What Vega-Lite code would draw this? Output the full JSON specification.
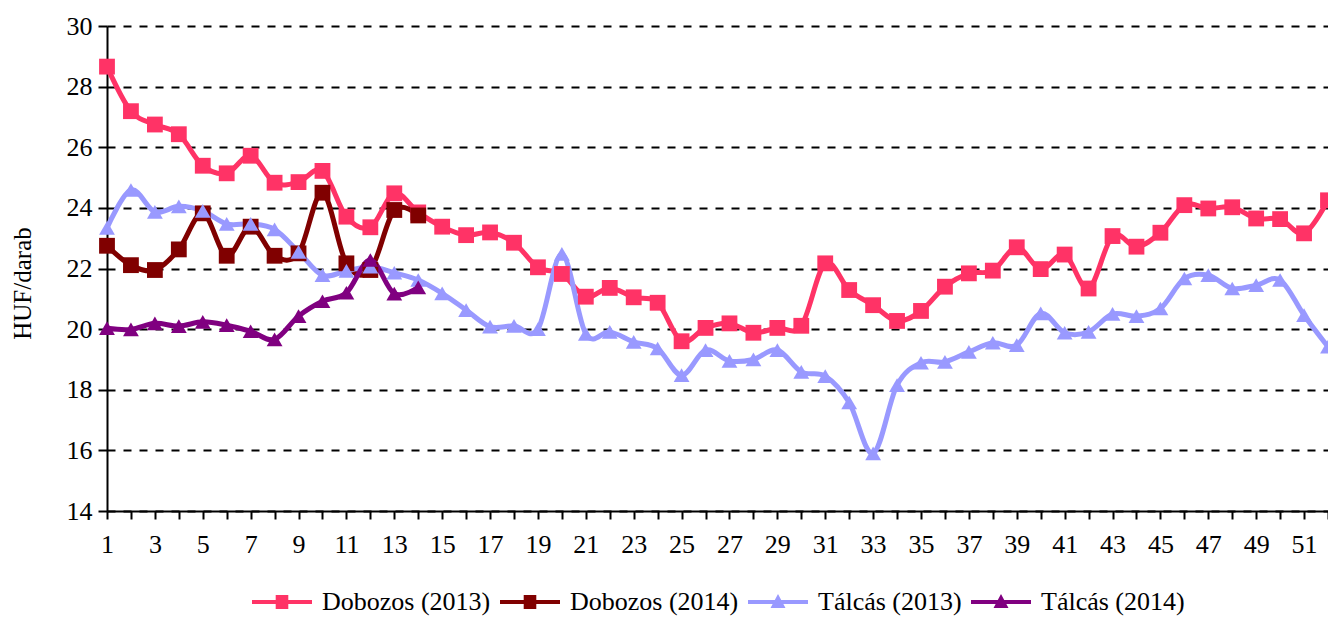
{
  "$schema": "https://vega.github.io/schema/vega-lite/v6.json",
  "width": 1221,
  "height": 485,
  "autosize": {"type": "none"},
  "padding": {"left": 107, "top": 26, "right": 0, "bottom": 106},
  "background": "white",
  "config": {"view": {"stroke": null}, "font": "Liberation Serif"},
  "data": {"values": [
    {"w":1,"s":"Dobozos (2013)","v":28.66},{"w":2,"s":"Dobozos (2013)","v":27.19},{"w":3,"s":"Dobozos (2013)","v":26.75},{"w":4,"s":"Dobozos (2013)","v":26.43},{"w":5,"s":"Dobozos (2013)","v":25.39},{"w":6,"s":"Dobozos (2013)","v":25.14},{"w":7,"s":"Dobozos (2013)","v":25.72},{"w":8,"s":"Dobozos (2013)","v":24.83},{"w":9,"s":"Dobozos (2013)","v":24.85},{"w":10,"s":"Dobozos (2013)","v":25.22},{"w":11,"s":"Dobozos (2013)","v":23.71},{"w":12,"s":"Dobozos (2013)","v":23.36},{"w":13,"s":"Dobozos (2013)","v":24.48},{"w":14,"s":"Dobozos (2013)","v":23.85},{"w":15,"s":"Dobozos (2013)","v":23.38},{"w":16,"s":"Dobozos (2013)","v":23.10},{"w":17,"s":"Dobozos (2013)","v":23.19},{"w":18,"s":"Dobozos (2013)","v":22.85},{"w":19,"s":"Dobozos (2013)","v":22.04},{"w":20,"s":"Dobozos (2013)","v":21.82},{"w":21,"s":"Dobozos (2013)","v":21.07},{"w":22,"s":"Dobozos (2013)","v":21.36},{"w":23,"s":"Dobozos (2013)","v":21.05},{"w":24,"s":"Dobozos (2013)","v":20.87},{"w":25,"s":"Dobozos (2013)","v":19.60},{"w":26,"s":"Dobozos (2013)","v":20.04},{"w":27,"s":"Dobozos (2013)","v":20.19},{"w":28,"s":"Dobozos (2013)","v":19.88},{"w":29,"s":"Dobozos (2013)","v":20.04},{"w":30,"s":"Dobozos (2013)","v":20.11},{"w":31,"s":"Dobozos (2013)","v":22.17},{"w":32,"s":"Dobozos (2013)","v":21.29},{"w":33,"s":"Dobozos (2013)","v":20.79},{"w":34,"s":"Dobozos (2013)","v":20.27},{"w":35,"s":"Dobozos (2013)","v":20.60},{"w":36,"s":"Dobozos (2013)","v":21.40},{"w":37,"s":"Dobozos (2013)","v":21.84},{"w":38,"s":"Dobozos (2013)","v":21.93},{"w":39,"s":"Dobozos (2013)","v":22.70},{"w":40,"s":"Dobozos (2013)","v":21.98},{"w":41,"s":"Dobozos (2013)","v":22.46},{"w":42,"s":"Dobozos (2013)","v":21.34},{"w":43,"s":"Dobozos (2013)","v":23.07},{"w":44,"s":"Dobozos (2013)","v":22.72},{"w":45,"s":"Dobozos (2013)","v":23.18},{"w":46,"s":"Dobozos (2013)","v":24.09},{"w":47,"s":"Dobozos (2013)","v":23.98},{"w":48,"s":"Dobozos (2013)","v":24.02},{"w":49,"s":"Dobozos (2013)","v":23.65},{"w":50,"s":"Dobozos (2013)","v":23.63},{"w":51,"s":"Dobozos (2013)","v":23.16},{"w":52,"s":"Dobozos (2013)","v":24.25},
    {"w":1,"s":"Dobozos (2014)","v":22.75},{"w":2,"s":"Dobozos (2014)","v":22.11},{"w":3,"s":"Dobozos (2014)","v":21.95},{"w":4,"s":"Dobozos (2014)","v":22.63},{"w":5,"s":"Dobozos (2014)","v":23.82},{"w":6,"s":"Dobozos (2014)","v":22.42},{"w":7,"s":"Dobozos (2014)","v":23.38},{"w":8,"s":"Dobozos (2014)","v":22.42},{"w":9,"s":"Dobozos (2014)","v":22.50},{"w":10,"s":"Dobozos (2014)","v":24.50},{"w":11,"s":"Dobozos (2014)","v":22.17},{"w":12,"s":"Dobozos (2014)","v":21.95},{"w":13,"s":"Dobozos (2014)","v":23.93},{"w":14,"s":"Dobozos (2014)","v":23.75},
    {"w":1,"s":"Tálcás (2013)","v":23.34},{"w":2,"s":"Tálcás (2013)","v":24.59},{"w":3,"s":"Tálcás (2013)","v":23.87},{"w":4,"s":"Tálcás (2013)","v":24.05},{"w":5,"s":"Tálcás (2013)","v":23.90},{"w":6,"s":"Tálcás (2013)","v":23.47},{"w":7,"s":"Tálcás (2013)","v":23.47},{"w":8,"s":"Tálcás (2013)","v":23.29},{"w":9,"s":"Tálcás (2013)","v":22.55},{"w":10,"s":"Tálcás (2013)","v":21.78},{"w":11,"s":"Tálcás (2013)","v":21.92},{"w":12,"s":"Tálcás (2013)","v":22.06},{"w":13,"s":"Tálcás (2013)","v":21.86},{"w":14,"s":"Tálcás (2013)","v":21.62},{"w":15,"s":"Tálcás (2013)","v":21.18},{"w":16,"s":"Tálcás (2013)","v":20.63},{"w":17,"s":"Tálcás (2013)","v":20.08},{"w":18,"s":"Tálcás (2013)","v":20.11},{"w":19,"s":"Tálcás (2013)","v":20.00},{"w":20,"s":"Tálcás (2013)","v":22.48},{"w":21,"s":"Tálcás (2013)","v":19.84},{"w":22,"s":"Tálcás (2013)","v":19.91},{"w":23,"s":"Tálcás (2013)","v":19.58},{"w":24,"s":"Tálcás (2013)","v":19.36},{"w":25,"s":"Tálcás (2013)","v":18.48},{"w":26,"s":"Tálcás (2013)","v":19.31},{"w":27,"s":"Tálcás (2013)","v":18.95},{"w":28,"s":"Tálcás (2013)","v":19.00},{"w":29,"s":"Tálcás (2013)","v":19.31},{"w":30,"s":"Tálcás (2013)","v":18.59},{"w":31,"s":"Tálcás (2013)","v":18.45},{"w":32,"s":"Tálcás (2013)","v":17.58},{"w":33,"s":"Tálcás (2013)","v":15.90},{"w":34,"s":"Tálcás (2013)","v":18.15},{"w":35,"s":"Tálcás (2013)","v":18.89},{"w":36,"s":"Tálcás (2013)","v":18.92},{"w":37,"s":"Tálcás (2013)","v":19.25},{"w":38,"s":"Tálcás (2013)","v":19.55},{"w":39,"s":"Tálcás (2013)","v":19.47},{"w":40,"s":"Tálcás (2013)","v":20.52},{"w":41,"s":"Tálcás (2013)","v":19.88},{"w":42,"s":"Tálcás (2013)","v":19.91},{"w":43,"s":"Tálcás (2013)","v":20.50},{"w":44,"s":"Tálcás (2013)","v":20.43},{"w":45,"s":"Tálcás (2013)","v":20.68},{"w":46,"s":"Tálcás (2013)","v":21.67},{"w":47,"s":"Tálcás (2013)","v":21.78},{"w":48,"s":"Tálcás (2013)","v":21.34},{"w":49,"s":"Tálcás (2013)","v":21.45},{"w":50,"s":"Tálcás (2013)","v":21.62},{"w":51,"s":"Tálcás (2013)","v":20.46},{"w":52,"s":"Tálcás (2013)","v":19.42},
    {"w":1,"s":"Tálcás (2014)","v":20.03},{"w":2,"s":"Tálcás (2014)","v":19.99},{"w":3,"s":"Tálcás (2014)","v":20.19},{"w":4,"s":"Tálcás (2014)","v":20.10},{"w":5,"s":"Tálcás (2014)","v":20.24},{"w":6,"s":"Tálcás (2014)","v":20.13},{"w":7,"s":"Tálcás (2014)","v":19.93},{"w":8,"s":"Tálcás (2014)","v":19.66},{"w":9,"s":"Tálcás (2014)","v":20.43},{"w":10,"s":"Tálcás (2014)","v":20.92},{"w":11,"s":"Tálcás (2014)","v":21.20},{"w":12,"s":"Tálcás (2014)","v":22.28},{"w":13,"s":"Tálcás (2014)","v":21.17},{"w":14,"s":"Tálcás (2014)","v":21.38}
  ]},
  "encoding": {
    "x": {"field": "w", "type": "quantitative",
      "scale": {"domain": [1, 52], "nice": false, "zero": false},
      "axis": {"title": null, "grid": false,
        "values": [1,2,3,4,5,6,7,8,9,10,11,12,13,14,15,16,17,18,19,20,21,22,23,24,25,26,27,28,29,30,31,32,33,34,35,36,37,38,39,40,41,42,43,44,45,46,47,48,49,50,51,52],
        "labelExpr": "datum.value % 2 == 1 ? datum.label : ''",
        "labelOverlap": false, "labelFlush": false,
        "domainColor": "black", "domainWidth": 2,
        "tickColor": "black", "tickWidth": 2, "tickSize": 8,
        "labelPadding": 12, "labelFont": "Liberation Serif", "labelFontSize": 26, "labelColor": "black"}},
    "y": {"field": "v", "type": "quantitative",
      "scale": {"domain": [14, 30], "nice": false, "zero": false},
      "axis": {"values": [14,16,18,20,22,24,26,28,30],
        "grid": true, "gridColor": "black", "gridDash": [8, 8], "gridWidth": 2,
        "domainColor": "black", "domainWidth": 2,
        "tickColor": "black", "tickWidth": 2, "tickSize": 9,
        "labelPadding": 6, "labelFont": "Liberation Serif", "labelFontSize": 26, "labelColor": "black",
        "title": "HUF/darab", "titleFont": "Liberation Serif", "titleFontSize": 25, "titleFontWeight": "normal", "titleColor": "black",
        "titleAngle": 270, "titleX": -77, "titleY": 257, "titleBaseline": "alphabetic", "titleAlign": "center"}},
    "color": {"field": "s", "type": "nominal",
      "scale": {"domain": ["Dobozos (2013)", "Dobozos (2014)", "Tálcás (2013)", "Tálcás (2014)"],
                "range": ["#FF3366", "#800000", "#9999FF", "#800080"]},
      "legend": {"title": null, "orient": "none", "direction": "horizontal", "legendX": 145, "legendY": 546,
        "symbolSize": 3600, "labelOffset": 10, "columnPadding": 9, "labelLimit": 0,
        "labelFont": "Liberation Serif", "labelFontSize": 26, "labelColor": "black",
        "encode": {"symbols": {"update": {
          "shape": {"signal": "indexof(datum.value, 'Dobozos') >= 0 ? 'M-1,-0.07H1V0.07H-1Z M-0.21,-0.23H0.21V0.23H-0.21Z' : 'M-1,-0.07H1V0.07H-1Z M0,-0.27L0.25,0.2H-0.25Z'"},
          "fill": {"signal": "scale('color', datum.value)"},
          "stroke": {"value": "transparent"},
          "strokeWidth": {"value": 0},
          "opacity": {"value": 1},
          "fillOpacity": {"value": 1}
        }}}}}
  },
  "layer": [
    {"mark": {"type": "line", "interpolate": "cardinal", "strokeWidth": 5}},
    {"mark": {"type": "point", "filled": true, "opacity": 1, "size": 250},
     "encoding": {"shape": {"condition": {"test": "indexof(datum.s, 'Dobozos') >= 0", "value": "square"}, "value": "triangle-up"}}}
  ]
}
